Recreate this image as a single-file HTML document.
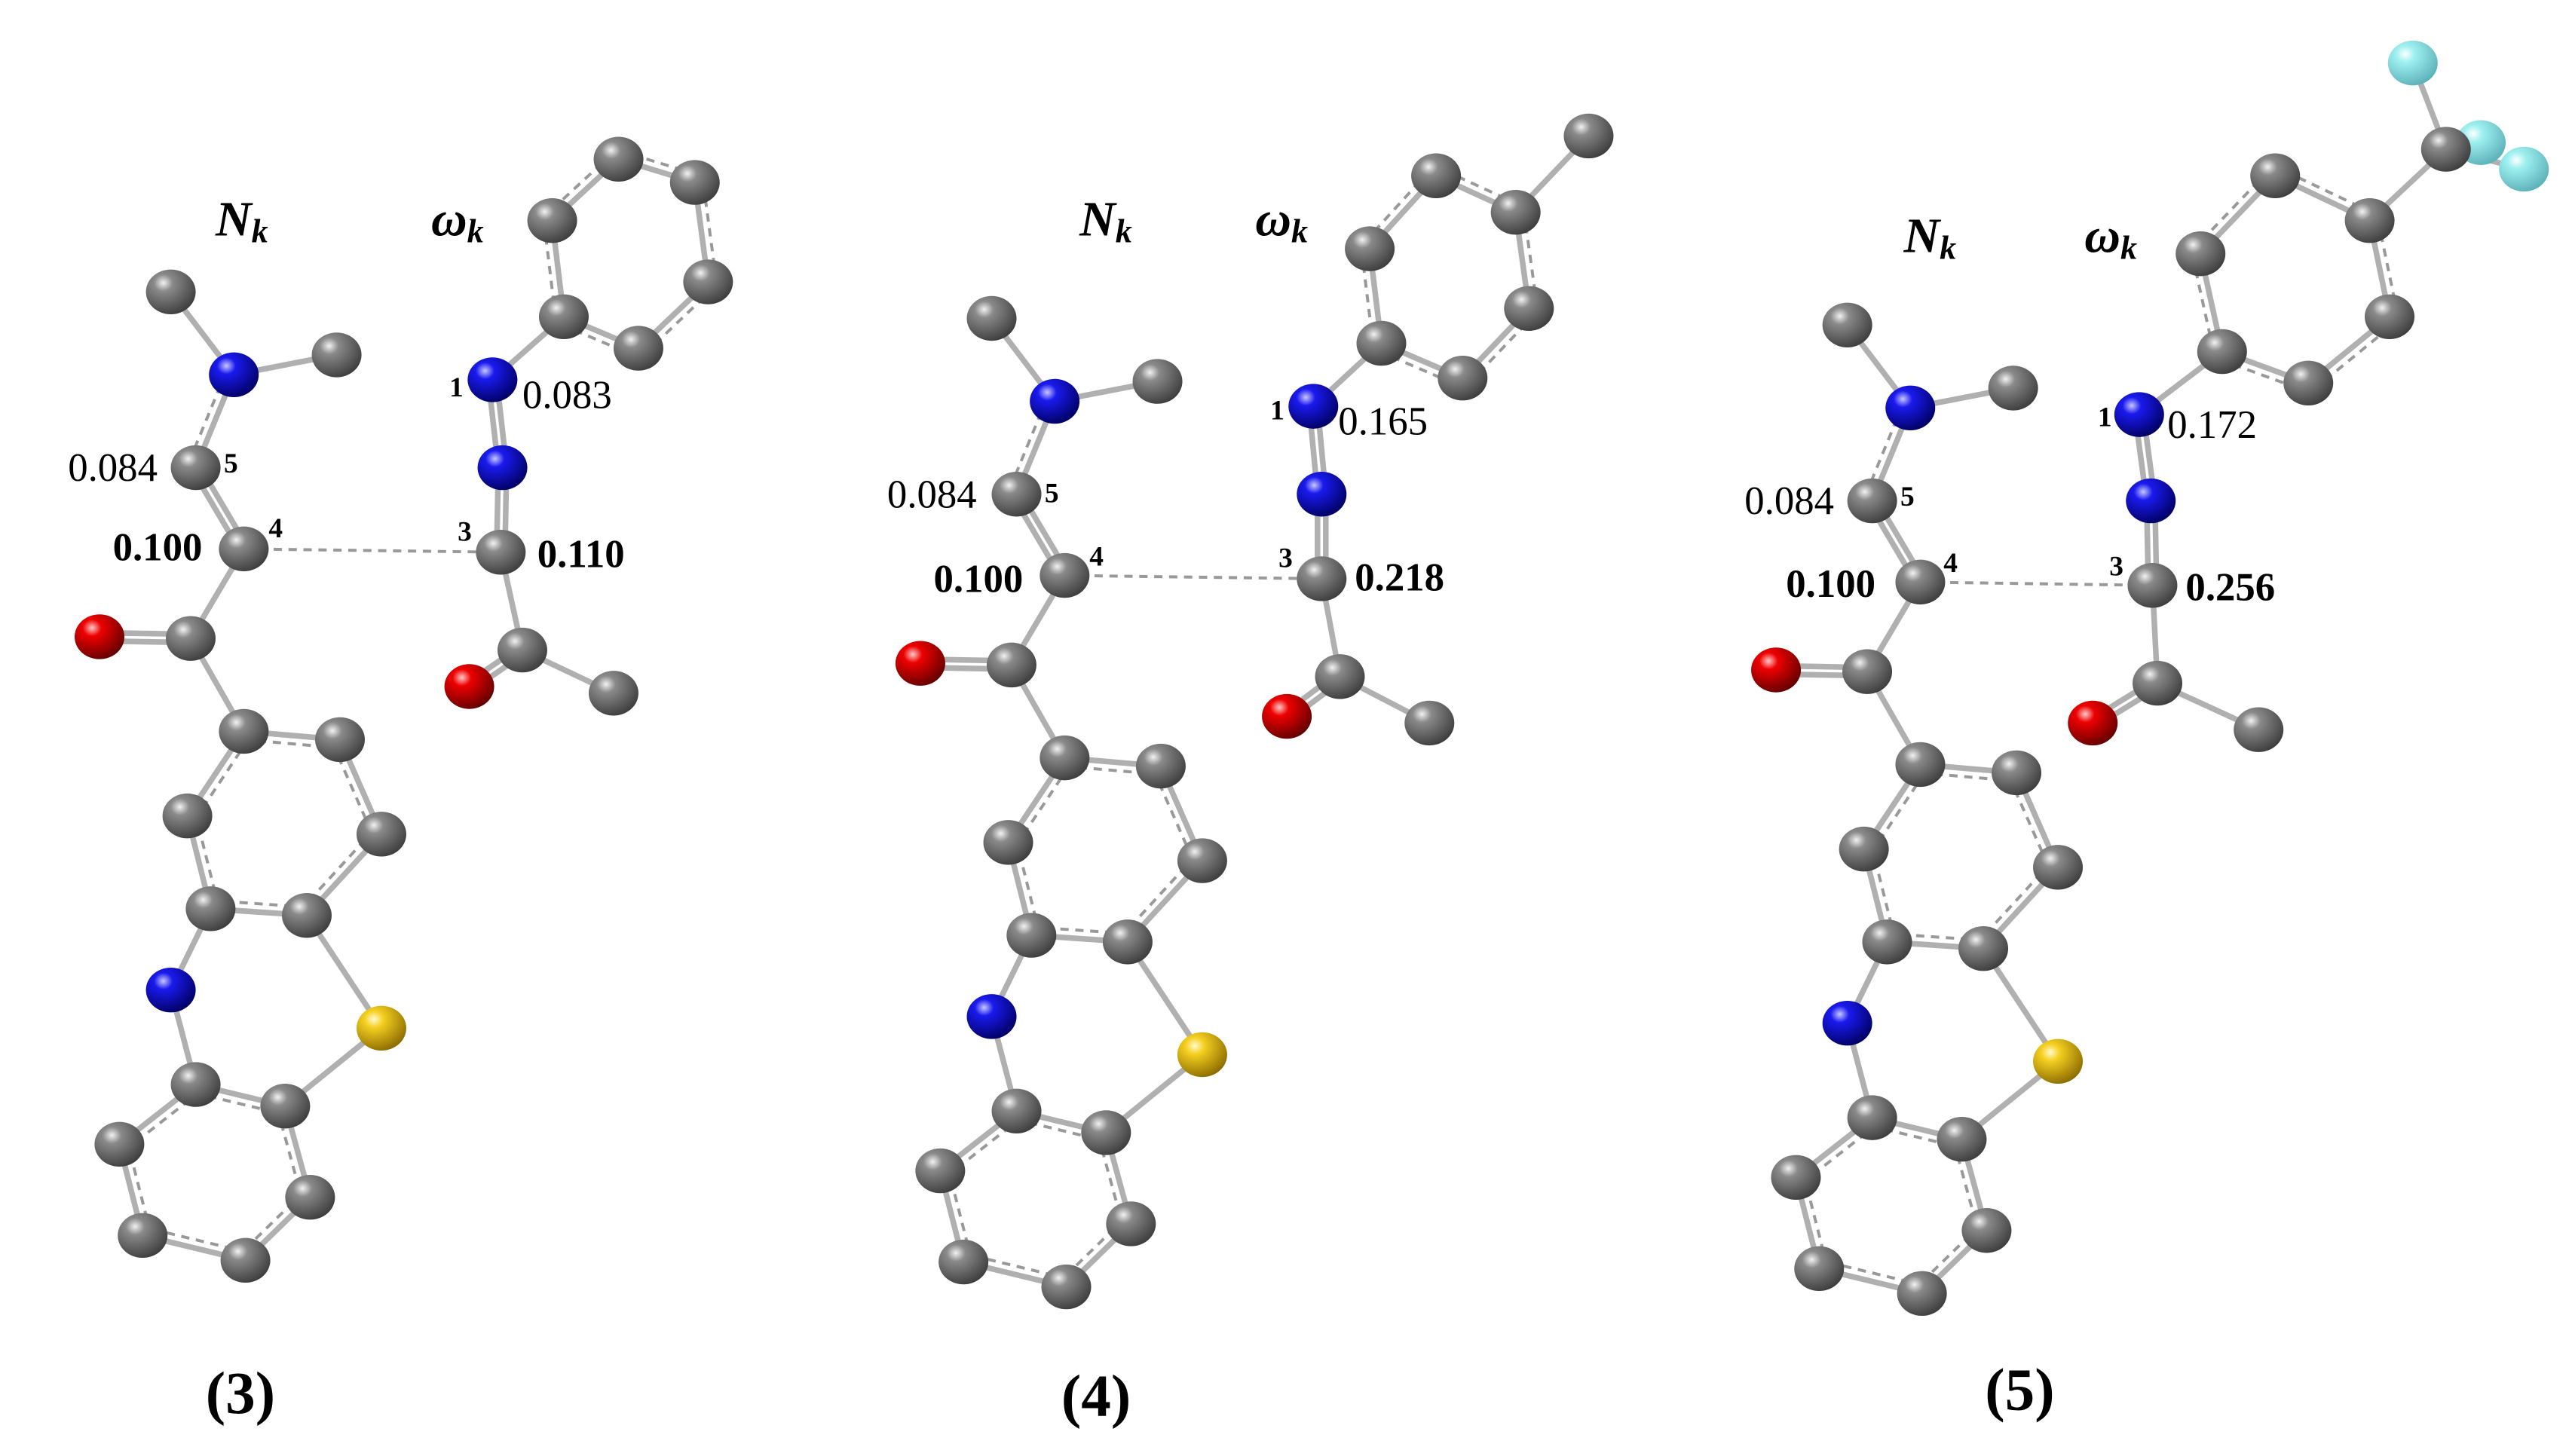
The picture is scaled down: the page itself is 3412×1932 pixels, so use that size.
<!DOCTYPE html>
<html><head><meta charset="utf-8"><style>
html,body{margin:0;padding:0;background:#fff;}
svg{display:block;}
text{font-family:"Liberation Serif",serif;fill:#000;}
</style></head><body>
<svg id="s" width="3412" height="1932" viewBox="0 0 1551 878" preserveAspectRatio="none" xmlns="http://www.w3.org/2000/svg">
<defs>
<radialGradient id="gC" cx="0.35" cy="0.3" r="0.75"><stop offset="0" stop-color="#f2f2f2"/><stop offset="0.25" stop-color="#8a8a8a"/><stop offset="1" stop-color="#3c3c3c"/></radialGradient>
<radialGradient id="gN" cx="0.35" cy="0.3" r="0.75"><stop offset="0" stop-color="#c8c8ff"/><stop offset="0.25" stop-color="#1a1aee"/><stop offset="1" stop-color="#000060"/></radialGradient>
<radialGradient id="gO" cx="0.35" cy="0.3" r="0.75"><stop offset="0" stop-color="#ffc8c8"/><stop offset="0.25" stop-color="#ee0000"/><stop offset="1" stop-color="#600000"/></radialGradient>
<radialGradient id="gS" cx="0.35" cy="0.3" r="0.75"><stop offset="0" stop-color="#fffbd0"/><stop offset="0.25" stop-color="#f5d020"/><stop offset="1" stop-color="#8a6a00"/></radialGradient>
<radialGradient id="gF" cx="0.35" cy="0.3" r="0.75"><stop offset="0" stop-color="#ffffff"/><stop offset="0.25" stop-color="#9ff0f0"/><stop offset="1" stop-color="#5ab0b8"/></radialGradient>
</defs>
<g id="bonds"></g><g id="atoms"></g>
<g font-size="30" font-weight="bold" font-style="italic">
<text x="130" y="142">N<tspan font-size="20" dy="4">k</tspan></text>
<text x="260" y="142">ω<tspan font-size="20" dy="4">k</tspan></text>
<text x="651" y="142">N<tspan font-size="20" dy="4">k</tspan></text>
<text x="757" y="142">ω<tspan font-size="20" dy="4">k</tspan></text>
<text x="1148" y="152">N<tspan font-size="20" dy="4">k</tspan></text>
<text x="1257" y="152">ω<tspan font-size="20" dy="4">k</tspan></text>
</g>
<g font-size="24">
<text x="41" y="290">0.084</text><text x="315" y="246">0.083</text>
<text x="535" y="306">0.084</text><text x="807" y="262">0.165</text>
<text x="1052" y="310">0.084</text><text x="1307" y="264">0.172</text>
</g>
<g font-size="24" font-weight="bold">
<text x="68" y="338">0.100</text><text x="324" y="342">0.110</text>
<text x="563" y="357">0.100</text><text x="817" y="356">0.218</text>
<text x="1077" y="360">0.100</text><text x="1318" y="362">0.256</text>
</g>
<g font-size="17" font-weight="bold">
<text x="135" y="285">5</text><text x="162" y="324">4</text><text x="276" y="326">3</text><text x="271" y="239">1</text>
<text x="630" y="303">5</text><text x="657" y="341">4</text><text x="771" y="342">3</text><text x="766" y="253">1</text>
<text x="1146" y="305">5</text><text x="1172" y="345">4</text><text x="1272" y="347">3</text><text x="1265" y="257">1</text>
</g>
<g font-size="36" font-weight="bold">
<text x="124" y="852">(3)</text><text x="640" y="854">(4)</text><text x="1197" y="850">(5)</text>
</g>
</svg>
<script>
var NS="http://www.w3.org/2000/svg";
var B=document.getElementById('bonds'),A=document.getElementById('atoms');
function line(a,b,dash,off){var dx=b[0]-a[0],dy=b[1]-a[1],L=Math.hypot(dx,dy),nx=-dy/L*off,ny=dx/L*off;
 var l=document.createElementNS(NS,'line');l.setAttribute('x1',a[0]+nx);l.setAttribute('y1',a[1]+ny);l.setAttribute('x2',b[0]+nx);l.setAttribute('y2',b[1]+ny);
 l.setAttribute('stroke',dash?'#999':'#b0b0b0');l.setAttribute('stroke-width',dash?1.8:3.4);if(dash)l.setAttribute('stroke-dasharray','5 4');B.appendChild(l);}
function bond(a,b,t){if(t==2){line(a,b,0,-2.5);line(a,b,0,2.5);}else if(t==1.5){line(a,b,0,0);line(a,b,1,5);}else if(t==9){line(a,b,1,0);}else line(a,b,0,0);}
function atom(p,g){var e=document.createElementNS(NS,'ellipse');e.setAttribute('cx',p[0]);e.setAttribute('cy',p[1]);e.setAttribute('rx',15);e.setAttribute('ry',13.5);e.setAttribute('fill','url(#'+g+')');A.appendChild(e);}
function left(dx,dy){var P={m1:[103,176],N:[141,226],m2:[203,214],c5:[118,282],c4:[147,331],cc:[115,385],o:[60,384],
a1:[147,441],a2:[205,446],a3:[230,503],a4:[185,552],a5:[127,548],a6:[113,492],nr:[103,597],s:[230,620],
b1:[118,654],b2:[172,667],b3:[187,722],b4:[148,760],b5:[86,745],b6:[72,690]};
for(var k in P){P[k]=[P[k][0]+dx,P[k][1]+dy];}
var bs=[['m1','N',1],['N','m2',1],['N','c5',1.5],['c5','c4',2],['c4','cc',1],['cc','o',2],['cc','a1',1],
['a1','a2',1.5],['a2','a3',1.5],['a3','a4',1.5],['a4','a5',1.5],['a5','a6',1.5],['a6','a1',1.5],['a5','nr',1],['a4','s',1],
['nr','b1',1],['s','b2',1],['b1','b2',1.5],['b2','b3',1.5],['b3','b4',1.5],['b4','b5',1.5],['b5','b6',1.5],['b6','b1',1.5]];
bs.forEach(function(b){bond(P[b[0]],P[b[1]],b[2]);});return P;}
function drawAtoms(P,types){for(var k in P){atom(P[k],types[k]||'gC');}}
var LT={N:'gN',o:'gO',nr:'gN',s:'gS'};
function right(R,extra){var bs=[['n1','n2',2],['n2','c3',2],['c3','cc',1],['cc','o',2],['cc','me',1],['n1','p1',1],
['p1','p2',1.5],['p2','p3',1.5],['p3','p4',1.5],['p4','p5',1.5],['p5','p6',1.5],['p6','p1',1.5]].concat(extra||[]);
bs.forEach(function(b){bond(R[b[0]],R[b[1]],b[2]);});}
var RT={n1:'gN',n2:'gN',o:'gO',f1:'gF',f2:'gF',f3:'gF'};
var L3=left(0,0);
var R3={n1:[297,229],n2:[303,282],c3:[302,333],cc:[315,392],o:[283,414],me:[370,418],p1:[340,191],p2:[385,210],p3:[427,170],p4:[419,110],p5:[373,96],p6:[333,133]};
bond(L3.c4,R3.c3,9);right(R3);
var L4=left(495,16);
var R4={n1:[792,245],n2:[797,298],c3:[797,349],cc:[808,408],o:[776,432],me:[862,436],p1:[833,207],p2:[882,228],p3:[922,186],p4:[914,128],p5:[866,106],p6:[826,150],m4:[958,82]};
bond(L4.c4,R4.c3,9);right(R4,[['p4','m4',1]]);
var L5=left(1011,20);
var R5={n1:[1290,250],n2:[1297,302],c3:[1298,353],cc:[1301,412],o:[1262,436],me:[1362,440],p1:[1340,212],p2:[1392,231],p3:[1441,191],p4:[1429,133],p5:[1372,106],p6:[1327,153],cf:[1475,90],f1:[1455,38],f2:[1496,86],f3:[1522,102]};
bond(L5.c4,R5.c3,9);right(R5,[['p4','cf',1],['cf','f1',1],['cf','f2',1],['cf','f3',1]]);
[L3,L4,L5].forEach(function(P){drawAtoms(P,LT);});
atom(R5.f2,'gF');
[R3,R4].forEach(function(P){drawAtoms(P,RT);});
var R5b={};for(var k in R5)if(k!='f2')R5b[k]=R5[k];drawAtoms(R5b,RT);
</script>
</body></html>
